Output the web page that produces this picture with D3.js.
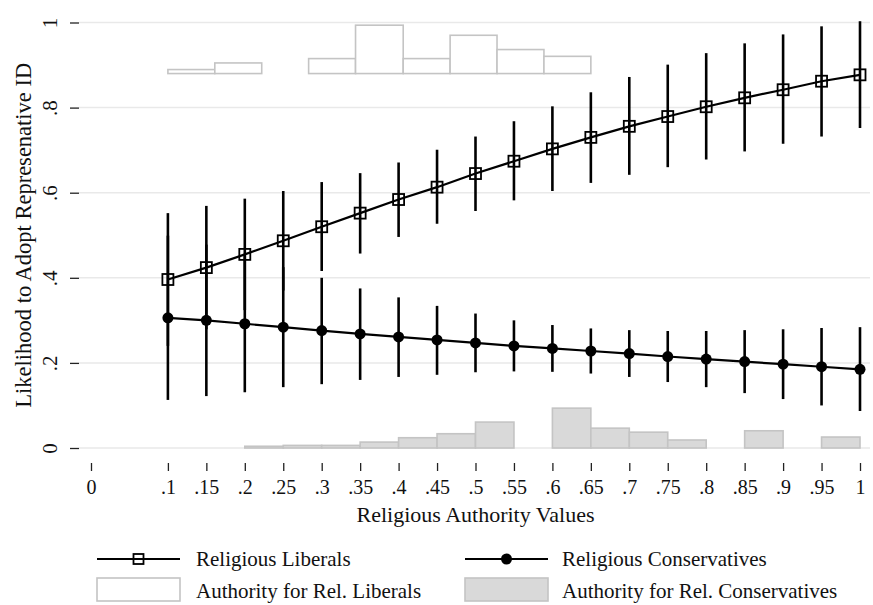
<!DOCTYPE html>
<html>
<head>
<meta charset="utf-8">
<script src="https://cdnjs.cloudflare.com/ajax/libs/d3/7.8.5/d3.min.js"></script>
<style>
  body { margin: 0; background: #fff; }
  svg text { font-family: "Liberation Serif", "DejaVu Serif", serif; fill: #111; }
</style>
</head>
<body>
<svg id="chart" width="873" height="605"></svg>
<script>
// religious authority values (x) for the predicted probabilities
var authority = [.1, .15, .2, .25, .3, .35, .4, .45, .5, .55, .6, .65, .7, .75, .8, .85, .9, .95, 1];

// religious liberals: estimate and 95% CI
var libMean = [0.396, 0.424, 0.455, 0.487, 0.520, 0.552, 0.584, 0.613, 0.645, 0.674, 0.703, 0.730, 0.756, 0.779, 0.802, 0.823, 0.842, 0.862, 0.877];
var libLow  = [0.240, 0.279, 0.324, 0.370, 0.416, 0.457, 0.496, 0.527, 0.557, 0.582, 0.604, 0.623, 0.642, 0.660, 0.678, 0.697, 0.715, 0.732, 0.752];
var libHigh = [0.552, 0.569, 0.586, 0.604, 0.625, 0.646, 0.671, 0.701, 0.732, 0.768, 0.803, 0.836, 0.872, 0.901, 0.928, 0.951, 0.972, 0.991, 1.003];

// religious conservatives: estimate and 95% CI
var conMean = [0.306, 0.300, 0.292, 0.284, 0.276, 0.268, 0.261, 0.254, 0.247, 0.240, 0.234, 0.228, 0.222, 0.215, 0.209, 0.203, 0.197, 0.191, 0.185];
var conLow  = [0.113, 0.122, 0.131, 0.143, 0.150, 0.160, 0.167, 0.172, 0.178, 0.180, 0.179, 0.175, 0.167, 0.155, 0.143, 0.129, 0.115, 0.100, 0.087];
var conHigh = [0.499, 0.478, 0.453, 0.425, 0.400, 0.375, 0.354, 0.334, 0.316, 0.300, 0.289, 0.281, 0.277, 0.275, 0.275, 0.277, 0.279, 0.282, 0.284];

// histogram of authority values, liberals (bin edges + share per bin)
var libBinEdges = [0.1, 0.161, 0.222, 0.283, 0.344, 0.406, 0.467, 0.528, 0.589, 0.65];
var libShare    = [0.023, 0.061, 0, 0.086, 0.278, 0.086, 0.220, 0.138, 0.099];

// histogram of authority values, conservatives
var conBinEdges = [.2, .25, .3, .35, .4, .45, .5, .55, .6, .65, .7, .75, .8, .85, .9, .95, 1];
var conShare    = [0.010, 0.015, 0.015, 0.034, 0.059, 0.082, 0.149, 0, 0.229, 0.114, 0.091, 0.046, 0, 0.099, 0, 0.063];

var xTicks = [0, .1, .15, .2, .25, .3, .35, .4, .45, .5, .55, .6, .65, .7, .75, .8, .85, .9, .95, 1];
var yTicks = [0, .2, .4, .6, .8, 1];
var libHistBase = 0.88; // liberals histogram is drawn on top of the plot

var svg = d3.select("svg#chart"),
  left = 79, right = 870, top = 7, bottom = 463;

var x = d3.scaleLinear().domain([0, 1]).range([91, 860]);
var y = d3.scaleLinear().domain([0, 1]).range([448, 22.5]);
var h = d3.scaleLinear().domain([0, 0.3]).range([0, 52.2]);

function fmt(d) {
  if (d === 0) return "0";
  if (d === 1) return "1";
  return d3.format(".2~f")(d).replace(/^0/, "");
}

// gridlines
svg.append("g")
  .selectAll("line")
  .data(yTicks)
  .enter().append("line")
  .attr("x1", left).attr("x2", right)
  .attr("y1", function(d) { return y(d); })
  .attr("y2", function(d) { return y(d); })
  .attr("stroke", "#e9e9e9")
  .attr("stroke-width", 1.5);

// histograms
function binData(edges, share) {
  var out = [];
  for (var i = 0; i < share.length; i++) {
    if (share[i] > 0) out.push({x0: edges[i], x1: edges[i + 1], v: share[i]});
  }
  return out;
}

svg.append("g")
  .selectAll("rect")
  .data(binData(libBinEdges, libShare))
  .enter().append("rect")
  .attr("x", function(d) { return x(d.x0); })
  .attr("width", function(d) { return x(d.x1) - x(d.x0); })
  .attr("y", function(d) { return y(libHistBase) - h(d.v); })
  .attr("height", function(d) { return h(d.v); })
  .attr("fill", "#fff")
  .attr("stroke", "#c4c4c4")
  .attr("stroke-width", 1.6);

svg.append("g")
  .selectAll("rect")
  .data(binData(conBinEdges, conShare))
  .enter().append("rect")
  .attr("x", function(d) { return x(d.x0); })
  .attr("width", function(d) { return x(d.x1) - x(d.x0); })
  .attr("y", function(d) { return y(0) - h(d.v); })
  .attr("height", function(d) { return h(d.v); })
  .attr("fill", "#d9d9d9")
  .attr("stroke", "#c4c4c4")
  .attr("stroke-width", 1.6);

// axes
var yAxis = svg.append("g")
  .attr("transform", "translate(" + left + ",0)")
  .call(d3.axisLeft(y).tickValues(yTicks).tickFormat(fmt).tickSize(9));
yAxis.select(".domain").remove();
yAxis.selectAll("line").attr("stroke", "#222").attr("stroke-width", 1.3);
yAxis.selectAll("text")
  .attr("transform", "rotate(-90)")
  .attr("x", 0).attr("y", -22).attr("dy", 0)
  .style("text-anchor", "middle")
  .style("font-size", "21px");

var xAxis = svg.append("g")
  .attr("transform", "translate(0," + bottom + ")")
  .call(d3.axisBottom(x).tickValues(xTicks).tickFormat(fmt).tickSize(8).tickPadding(9));
xAxis.select(".domain").remove();
xAxis.selectAll("line").attr("stroke", "#222").attr("stroke-width", 1.3);
xAxis.selectAll("text").style("font-size", "20px");

svg.append("path")
  .attr("d", "M" + left + "," + top + "V" + bottom + "H" + right)
  .attr("fill", "none")
  .attr("stroke", "#222")
  .attr("stroke-width", 1.5);

svg.append("text")
  .attr("x", (left + right) / 2 + 1)
  .attr("y", 522)
  .style("text-anchor", "middle")
  .style("font-size", "22px")
  .text("Religious Authority Values");

svg.append("text")
  .attr("transform", "translate(31," + ((y(0) + y(1)) / 2) + ") rotate(-90)")
  .style("text-anchor", "middle")
  .style("font-size", "22.5px")
  .text("Likelihood to Adopt Represenative ID");

// series
var libData = authority.map(function(a, i) { return {x: a, m: libMean[i], lo: libLow[i], hi: libHigh[i]}; });
var conData = authority.map(function(a, i) { return {x: a, m: conMean[i], lo: conLow[i], hi: conHigh[i]}; });

var line = d3.line()
  .x(function(d) { return x(d.x); })
  .y(function(d) { return y(d.m); });

[libData, conData].forEach(function(data) {
  svg.append("g")
    .selectAll("line")
    .data(data)
    .enter().append("line")
    .attr("x1", function(d) { return x(d.x); })
    .attr("x2", function(d) { return x(d.x); })
    .attr("y1", function(d) { return y(d.lo); })
    .attr("y2", function(d) { return y(d.hi); })
    .attr("stroke", "#000")
    .attr("stroke-width", 2.6);

  svg.append("path")
    .datum(data)
    .attr("d", line)
    .attr("fill", "none")
    .attr("stroke", "#000")
    .attr("stroke-width", 2.2);
});

svg.append("g")
  .selectAll("rect")
  .data(libData)
  .enter().append("rect")
  .attr("x", function(d) { return x(d.x) - 5.5; })
  .attr("y", function(d) { return y(d.m) - 5.5; })
  .attr("width", 11).attr("height", 11)
  .attr("fill", "none")
  .attr("stroke", "#000")
  .attr("stroke-width", 1.8);

svg.append("g")
  .selectAll("circle")
  .data(conData)
  .enter().append("circle")
  .attr("cx", function(d) { return x(d.x); })
  .attr("cy", function(d) { return y(d.m); })
  .attr("r", 5.5)
  .attr("fill", "#000");

// legend
var legend = svg.append("g").attr("class", "legend");
var cols = [97, 465];

legend.append("line").attr("x1", cols[0]).attr("x2", cols[0] + 83).attr("y1", 559).attr("y2", 559)
  .attr("stroke", "#000").attr("stroke-width", 2.2);
legend.append("rect").attr("x", cols[0] + 36.5).attr("y", 554).attr("width", 10).attr("height", 10)
  .attr("fill", "none").attr("stroke", "#000").attr("stroke-width", 1.8);
legend.append("line").attr("x1", cols[1]).attr("x2", cols[1] + 83).attr("y1", 559).attr("y2", 559)
  .attr("stroke", "#000").attr("stroke-width", 2.2);
legend.append("circle").attr("cx", cols[1] + 41.5).attr("cy", 559).attr("r", 5.5).attr("fill", "#000");

legend.append("rect").attr("x", cols[0]).attr("y", 578).attr("width", 83).attr("height", 23)
  .attr("fill", "#fff").attr("stroke", "#c4c4c4").attr("stroke-width", 1.6);
legend.append("rect").attr("x", cols[1]).attr("y", 578).attr("width", 83).attr("height", 23)
  .attr("fill", "#d9d9d9").attr("stroke", "#c4c4c4").attr("stroke-width", 1.6);

var labels = [
  {x: cols[0] + 99, y: 566, t: "Religious Liberals"},
  {x: cols[1] + 97, y: 566, t: "Religious Conservatives"},
  {x: cols[0] + 99, y: 598, t: "Authority for Rel. Liberals"},
  {x: cols[1] + 97, y: 598, t: "Authority for Rel. Conservatives"}
];
legend.selectAll("text")
  .data(labels)
  .enter().append("text")
  .attr("x", function(d) { return d.x; })
  .attr("y", function(d) { return d.y; })
  .style("font-size", "21px")
  .text(function(d) { return d.t; });
</script>
</body>
</html>
